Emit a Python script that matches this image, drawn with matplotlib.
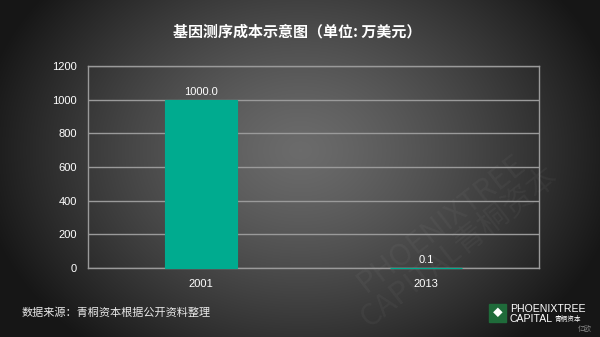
import numpy as np
import matplotlib
matplotlib.use('Agg')
import matplotlib.pyplot as plt
from matplotlib.patches import Rectangle

plt.rcParams['font.family'] = ['Noto Sans CJK SC', 'DejaVu Sans']
NUM_FONT = ['Liberation Sans', 'DejaVu Sans']

years = ['2001', '2013']
costs = [1000.0, 0.1]
labels = ['1000.0', '0.1']
title = '基因测序成本示意图（单位: 万美元）'
source = '数据来源：青桐资本根据公开资料整理'

fig = plt.figure(figsize=(6, 3.37), dpi=100)

# radial gradient background
bg = fig.add_axes([0, 0, 1, 1])
yy, xx = np.mgrid[0:337, 0:600]
r = np.sqrt(((xx - 300) / 330.0) ** 2 + ((yy - 150) / 260.0) ** 2)
shade = np.clip(0.42 - 0.34 * r ** 1.3, 0.09, 0.42)
bg.imshow(np.dstack([shade] * 3), extent=[0, 600, 337, 0], aspect='auto')
bg.set_xlim(0, 600)
bg.set_ylim(337, 0)
bg.axis('off')

# watermark
bg.text(450, 235, 'PHOENIXTREE\nCAPITAL青桐资本', rotation=38, fontsize=22,
        color='white', alpha=0.04, ha='center', va='center', linespacing=0.9)

bg.text(297, 32, title, color='white', fontsize=10.8, fontweight='bold',
        ha='center', va='center')
bg.text(22, 313, source, color='#e8e8e8', fontsize=8, ha='left', va='center')

# logo
bg.add_patch(Rectangle((489, 304), 17, 18, color='#1f6b3a'))
bg.text(497.5, 313, '◆', color='white', fontsize=7, ha='center', va='center')
bg.text(510, 309, 'PHOENIXTREE', color='white', fontsize=7.6, ha='left',
        va='center', family=NUM_FONT)
bg.text(510, 319, 'CAPITAL', color='white', fontsize=7.6, ha='left',
        va='center', family=NUM_FONT)
bg.text(555, 319.5, '青桐资本', color='white', fontsize=4.8, ha='left', va='center')
bg.text(585, 330, '亿欧', color='#888888', fontsize=5, ha='center', va='center')

ax = fig.add_axes([88 / 600, 1 - 268 / 337, 451 / 600, 202 / 337])
ax.patch.set_alpha(0)
x = np.arange(len(years))
bars = ax.bar(x, costs, width=0.32, color='#00ab8f', edgecolor='#00ab8f',
              linewidth=0.8, zorder=3, clip_on=False)
for b, lab in zip(bars, labels):
    ax.text(b.get_x() + b.get_width() / 2, b.get_height() + 18, lab,
            color='white', fontsize=8, ha='center', va='bottom', family=NUM_FONT)

ax.set_xlim(-0.5, 1.5)
ax.set_ylim(0, 1200)
ax.set_yticks(range(0, 1201, 200))
ax.set_xticks(x)
ax.set_xticklabels(years)
ax.yaxis.grid(True, color='#9a9a9a', linewidth=1, zorder=1)
ax.tick_params(colors='white', labelsize=8, length=0, pad=8)
for t in ax.get_xticklabels() + ax.get_yticklabels():
    t.set_family(NUM_FONT)
for s in ax.spines.values():
    s.set_color('#9a9a9a')
    s.set_linewidth(1)

fig.savefig('out.png', dpi=100)
